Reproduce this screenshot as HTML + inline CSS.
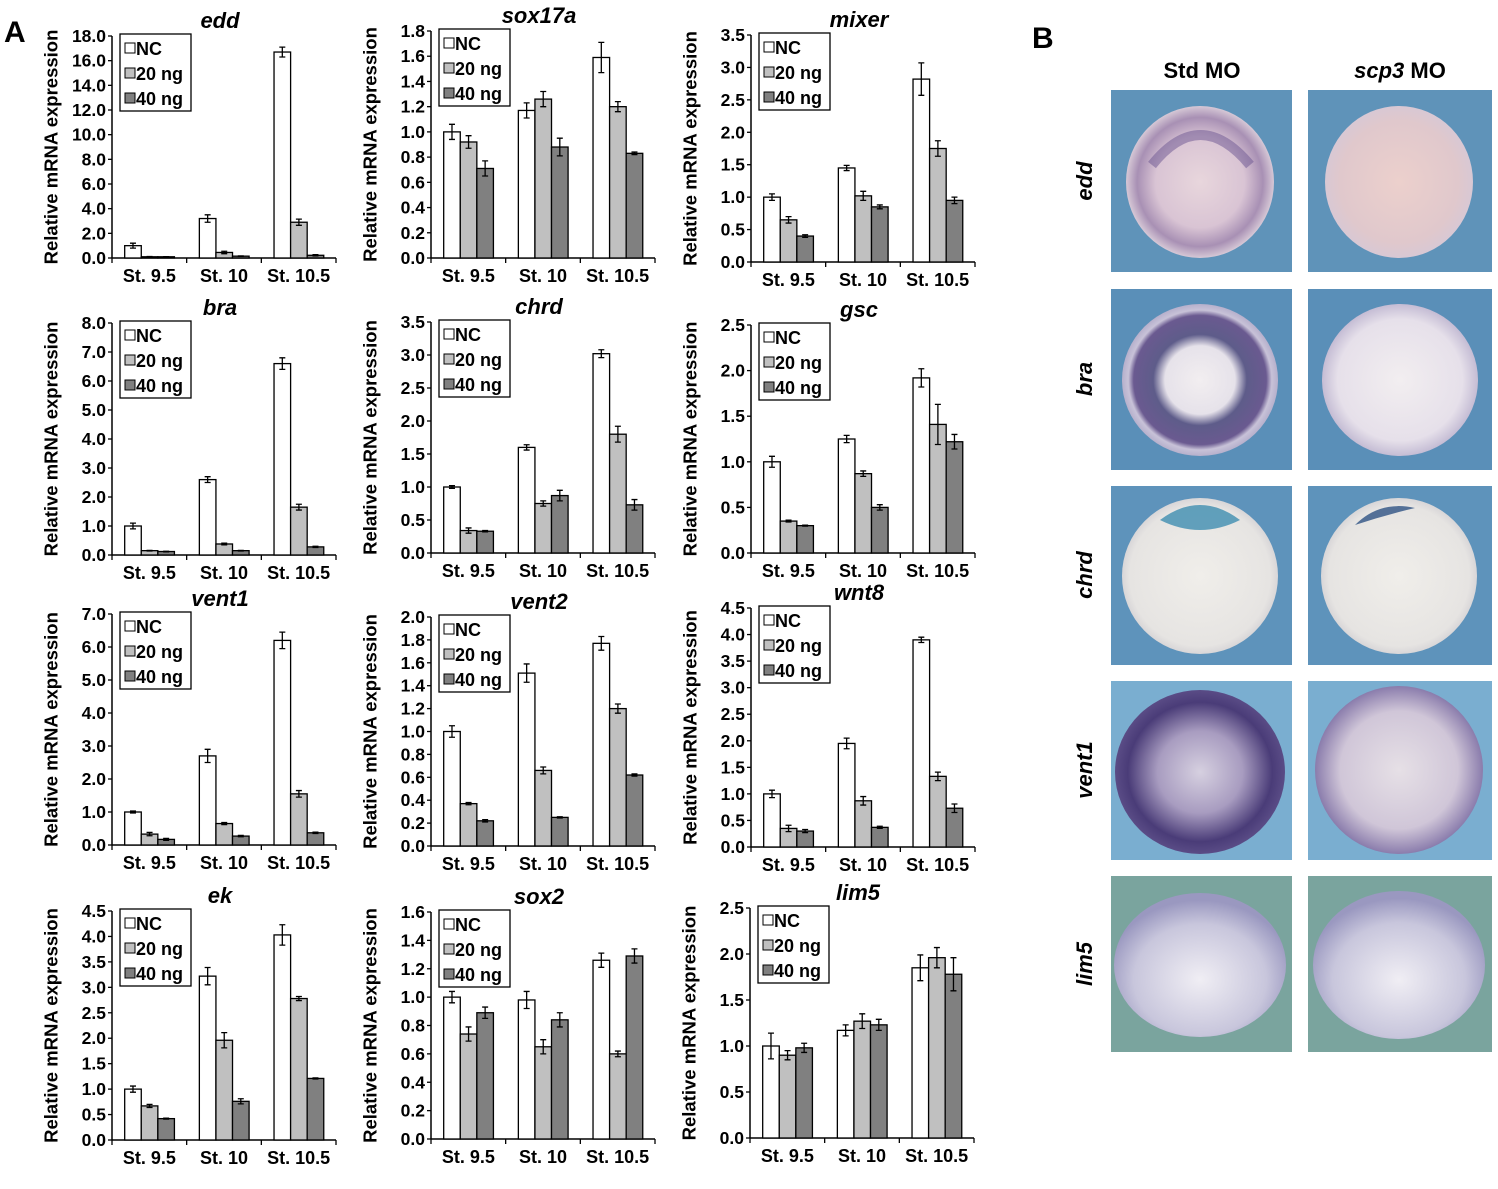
<!DOCTYPE html>
<html><head><meta charset="utf-8">
<style>
body{margin:0;background:#fff;width:1498px;height:1184px;overflow:hidden;font-family:"Liberation Sans",Arial,sans-serif}
svg text{font-family:"Liberation Sans",Arial,sans-serif;font-weight:bold}
</style></head><body>
<svg id="fig" width="1498" height="1184" viewBox="0 0 1498 1184" xmlns="http://www.w3.org/2000/svg">
<defs>
<radialGradient id="gEdd1" cx="50%" cy="50%" r="50%"><stop offset="0" stop-color="#e8d6dc"/><stop offset="0.6" stop-color="#d9c4d4"/><stop offset="0.85" stop-color="#a890b4"/><stop offset="1" stop-color="#d6c8d6"/></radialGradient>
<radialGradient id="gEdd2" cx="50%" cy="50%" r="50%"><stop offset="0" stop-color="#ecd0cc"/><stop offset="0.8" stop-color="#e0c8cc"/><stop offset="1" stop-color="#d8c8d4"/></radialGradient>
<radialGradient id="gBra1" cx="50%" cy="50%" r="50%"><stop offset="0" stop-color="#f2eef0"/><stop offset="0.45" stop-color="#e6e2ea"/><stop offset="0.6" stop-color="#5e5c8a"/><stop offset="0.85" stop-color="#6a5a90"/><stop offset="0.92" stop-color="#c8c2d8"/><stop offset="1" stop-color="#b6b0cc"/></radialGradient>
<radialGradient id="gBra2" cx="50%" cy="50%" r="50%"><stop offset="0" stop-color="#f2eef0"/><stop offset="0.8" stop-color="#e6e0ea"/><stop offset="1" stop-color="#c4bcd4"/></radialGradient>
<radialGradient id="gPlain" cx="50%" cy="50%" r="50%"><stop offset="0" stop-color="#f0eeea"/><stop offset="0.9" stop-color="#e6e4e2"/><stop offset="1" stop-color="#d8d6d8"/></radialGradient>
<radialGradient id="gVent1" cx="50%" cy="50%" r="50%"><stop offset="0" stop-color="#d6d0e0"/><stop offset="0.5" stop-color="#a89cc0"/><stop offset="0.85" stop-color="#4a3c78"/><stop offset="1" stop-color="#5a4c86"/></radialGradient>
<radialGradient id="gVent2" cx="50%" cy="50%" r="50%"><stop offset="0" stop-color="#e6e0e6"/><stop offset="0.7" stop-color="#d0c6d8"/><stop offset="1" stop-color="#8a7cac"/></radialGradient>
<radialGradient id="gLim" cx="50%" cy="60%" r="55%"><stop offset="0" stop-color="#f0eef4"/><stop offset="0.7" stop-color="#c8c6dc"/><stop offset="1" stop-color="#9a98c0"/></radialGradient>
</defs>
<text x="4" y="42" font-size="30">A</text>
<text x="1032" y="48" font-size="30">B</text>
<g id="charts"></g>
<g id="photos">
<text x="1202" y="78" font-size="22" text-anchor="middle">Std MO</text>
<text x="1400" y="78" font-size="22" text-anchor="middle"><tspan font-style="italic">scp3</tspan> MO</text>
<g>
<rect x="1111" y="90" width="181" height="182" fill="#5f93b9"/><ellipse cx="1200" cy="182" rx="74" ry="76" fill="url(#gEdd1)"/>
<path d="M1152 165 Q1200 105 1250 165" stroke="#6a5490" stroke-width="10" fill="none" opacity="0.5"/>
<rect x="1308" y="90" width="184" height="182" fill="#5f93b9"/><ellipse cx="1399" cy="182" rx="74" ry="76" fill="url(#gEdd2)"/>
<text x="1092" y="181" font-size="22" font-style="italic" text-anchor="middle" transform="rotate(-90 1092 181)">edd</text></g>
<g>
<rect x="1111" y="289" width="181" height="181" fill="#5a8fb8"/><ellipse cx="1200" cy="380" rx="78" ry="76" fill="url(#gBra1)"/>
<rect x="1308" y="289" width="184" height="181" fill="#5a8fb8"/><ellipse cx="1400" cy="380" rx="78" ry="76" fill="url(#gBra2)"/>
<text x="1092" y="379" font-size="22" font-style="italic" text-anchor="middle" transform="rotate(-90 1092 379)">bra</text></g>
<g>
<rect x="1111" y="486" width="181" height="179" fill="#5e93bb"/><ellipse cx="1200" cy="576" rx="78" ry="78" fill="url(#gPlain)"/>
<path d="M1160 520 Q1200 490 1240 520 Q1200 540 1160 520Z" fill="#3f8db0" opacity="0.8"/>
<rect x="1308" y="486" width="184" height="179" fill="#5e93bb"/><ellipse cx="1399" cy="576" rx="78" ry="78" fill="url(#gPlain)"/>
<path d="M1355 525 Q1380 500 1415 508 Q1385 515 1355 525Z" fill="#3a5c8a" opacity="0.85"/>
<text x="1092" y="575" font-size="22" font-style="italic" text-anchor="middle" transform="rotate(-90 1092 575)">chrd</text></g>
<g>
<rect x="1111" y="681" width="181" height="179" fill="#7aaed0"/><ellipse cx="1200" cy="772" rx="85" ry="82" fill="url(#gVent1)"/>
<rect x="1308" y="681" width="184" height="179" fill="#7aaed0"/><ellipse cx="1399" cy="770" rx="84" ry="84" fill="url(#gVent2)"/>
<text x="1092" y="770" font-size="22" font-style="italic" text-anchor="middle" transform="rotate(-90 1092 770)">vent1</text></g>
<g>
<rect x="1111" y="876" width="181" height="176" fill="#7aa49e"/><ellipse cx="1200" cy="965" rx="86" ry="72" fill="url(#gLim)"/>
<rect x="1308" y="876" width="184" height="176" fill="#7aa49e"/><ellipse cx="1399" cy="965" rx="86" ry="74" fill="url(#gLim)"/>
<text x="1092" y="964" font-size="22" font-style="italic" text-anchor="middle" transform="rotate(-90 1092 964)">lim5</text></g>
</g>
</svg>
<script>
const genes = ["edd","sox17a","mixer","bra","chrd","gsc","vent1","vent2","wnt8","ek","sox2","lim5"];
const stages = ["St. 9.5","St. 10","St. 10.5"];
const seriesNames = ["NC","20 ng","40 ng"];
const yMax = [18,1.8,3.5,8,3.5,2.5,7,2,4.5,4.5,1.6,2.5];
const yStep = [2,0.2,0.5,1,0.5,0.5,1,0.2,0.5,0.5,0.2,0.5];
const ncValues = [[1.0,3.2,16.7],[1.0,1.17,1.59],[1.0,1.45,2.82],[1.0,2.6,6.6],[1.0,1.6,3.02],[1.0,1.25,1.92],[1.0,2.7,6.2],[1.0,1.51,1.77],[1.0,1.95,3.9],[1.0,3.22,4.03],[1.0,0.98,1.26],[1.0,1.17,1.85]];
const ng20Values = [[0.1,0.45,2.9],[0.92,1.26,1.2],[0.65,1.02,1.75],[0.15,0.38,1.65],[0.34,0.75,1.8],[0.35,0.87,1.41],[0.33,0.65,1.55],[0.37,0.66,1.2],[0.35,0.87,1.33],[0.67,1.96,2.78],[0.74,0.65,0.6],[0.9,1.27,1.96]];
const ng40Values = [[0.1,0.15,0.22],[0.71,0.88,0.83],[0.4,0.85,0.95],[0.12,0.15,0.28],[0.33,0.87,0.73],[0.3,0.5,1.22],[0.17,0.27,0.37],[0.22,0.25,0.62],[0.3,0.37,0.73],[0.42,0.76,1.21],[0.89,0.84,1.29],[0.98,1.23,1.78]];
const ncErr = [[0.2,0.3,0.4],[0.06,0.06,0.12],[0.05,0.04,0.25],[0.1,0.1,0.2],[0.02,0.04,0.06],[0.06,0.04,0.1],[0.03,0.2,0.25],[0.05,0.08,0.06],[0.07,0.1,0.05],[0.06,0.17,0.2],[0.04,0.06,0.05],[0.14,0.06,0.14]];
const ng20Err = [[0.02,0.1,0.25],[0.05,0.06,0.04],[0.05,0.07,0.12],[0.01,0.03,0.1],[0.04,0.04,0.12],[0.01,0.03,0.22],[0.05,0.03,0.1],[0.01,0.03,0.04],[0.06,0.08,0.08],[0.03,0.15,0.04],[0.05,0.05,0.02],[0.05,0.08,0.11]];
const ng40Err = [[0.01,0.02,0.05],[0.06,0.07,0.01],[0.02,0.03,0.05],[0.01,0.01,0.02],[0.01,0.08,0.08],[0.005,0.03,0.08],[0.03,0.02,0.02],[0.01,0.005,0.01],[0.03,0.02,0.08],[0.01,0.05,0.01],[0.04,0.05,0.05],[0.05,0.06,0.18]];

const layout = [[112,36,258],[431,31,258],[751,35,262],[112,323,555],[431,322,553],[751,325,553],[112,614,845],[431,617,846],[751,608,847],[112,911,1140],[431,912,1139],[750,908,1138]];
const fills = ["#ffffff","#c0c0c0","#808080"];
const NS = "http://www.w3.org/2000/svg";
const root = document.getElementById("charts");
function mk(tag, attrs, parent){const e=document.createElementNS(NS,tag);for(const k in attrs)e.setAttribute(k,attrs[k]);parent.appendChild(e);return e;}
genes.forEach((g,i)=>{
  const [ax,top,bot]=layout[i]; const W=224; const catW=W/3;
  const y=v=>bot-(v/yMax[i])*(bot-top);
  const G=mk("g",{},root);
  
  
  const t=mk("text",{x:ax+W/2-4,y:top-8,"font-size":22,"font-style":"italic","text-anchor":"middle"},G);t.textContent=g;
  
  
  const cx0=ax-61, cy0=(top+bot)/2;
  const yl=mk("text",{x:cx0,y:cy0,"font-size":18.5,"text-anchor":"middle",transform:`rotate(-90 ${cx0} ${cy0})`,"dominant-baseline":"central"},G);yl.textContent="Relative mRNA expression";
  
  
  const nT=Math.round(yMax[i]/yStep[i]);
  for(let k=0;k<=nT;k++){const v=k*yStep[i];const yy=y(v);
    mk("line",{x1:ax-4,x2:ax,y1:yy,y2:yy,stroke:"#000","stroke-width":1.3},G);
    const tl=mk("text",{x:ax-6,y:yy+6,"font-size":17.5,"text-anchor":"end"},G);tl.textContent=v.toFixed(1);
    
    }
  mk("line",{x1:ax,x2:ax,y1:top,y2:bot,stroke:"#000","stroke-width":1.5},G);
  mk("line",{x1:ax,x2:ax+W,y1:bot,y2:bot,stroke:"#000","stroke-width":1.5},G);
  for(let c=0;c<=3;c++){mk("line",{x1:ax+c*catW,x2:ax+c*catW,y1:bot,y2:bot+5,stroke:"#000","stroke-width":1.3},G);}
  const vals=[ncValues[i],ng20Values[i],ng40Values[i]];
  const errs=[ncErr[i],ng20Err[i],ng40Err[i]];
  stages.forEach((s,c)=>{
    const cl=mk("text",{x:ax+c*catW+catW/2,y:bot+24,"font-size":18,"text-anchor":"middle"},G);cl.textContent=s;
    
    
    const bw=catW*0.222; const x0=ax+c*catW+catW*0.17;
    for(let sI=0;sI<3;sI++){
      const v=vals[sI][c]; const bx=x0+sI*bw;
      const b=mk("rect",{x:bx,y:y(v),width:bw,height:bot-y(v),fill:fills[sI],stroke:"#000","stroke-width":1.3},G);
      
      
      const e=errs[sI][c]; const cx=bx+bw/2;
      mk("path",{d:`M${cx} ${y(v+e)}V${y(v-e)}M${cx-3} ${y(v+e)}H${cx+3}M${cx-3} ${y(v-e)}H${cx+3}`,stroke:"#000","stroke-width":1.3,fill:"none"},G);
    }
  });
  const lx=ax+8, ly=top-2;
  const L=mk("g",{},G);
  
  
  mk("rect",{x:lx,y:ly,width:71,height:77,fill:"#fff",stroke:"#000","stroke-width":1.3},L);
  seriesNames.forEach((n,sI)=>{const ry=ly+15+sI*25;
    mk("rect",{x:lx+5,y:ry-6,width:10,height:10,fill:fills[sI],stroke:"#000","stroke-width":1},L);
    const lt=mk("text",{x:lx+16,y:ry+6,"font-size":18},L);lt.textContent=n;
    
    });
});
</script>
</body></html>
